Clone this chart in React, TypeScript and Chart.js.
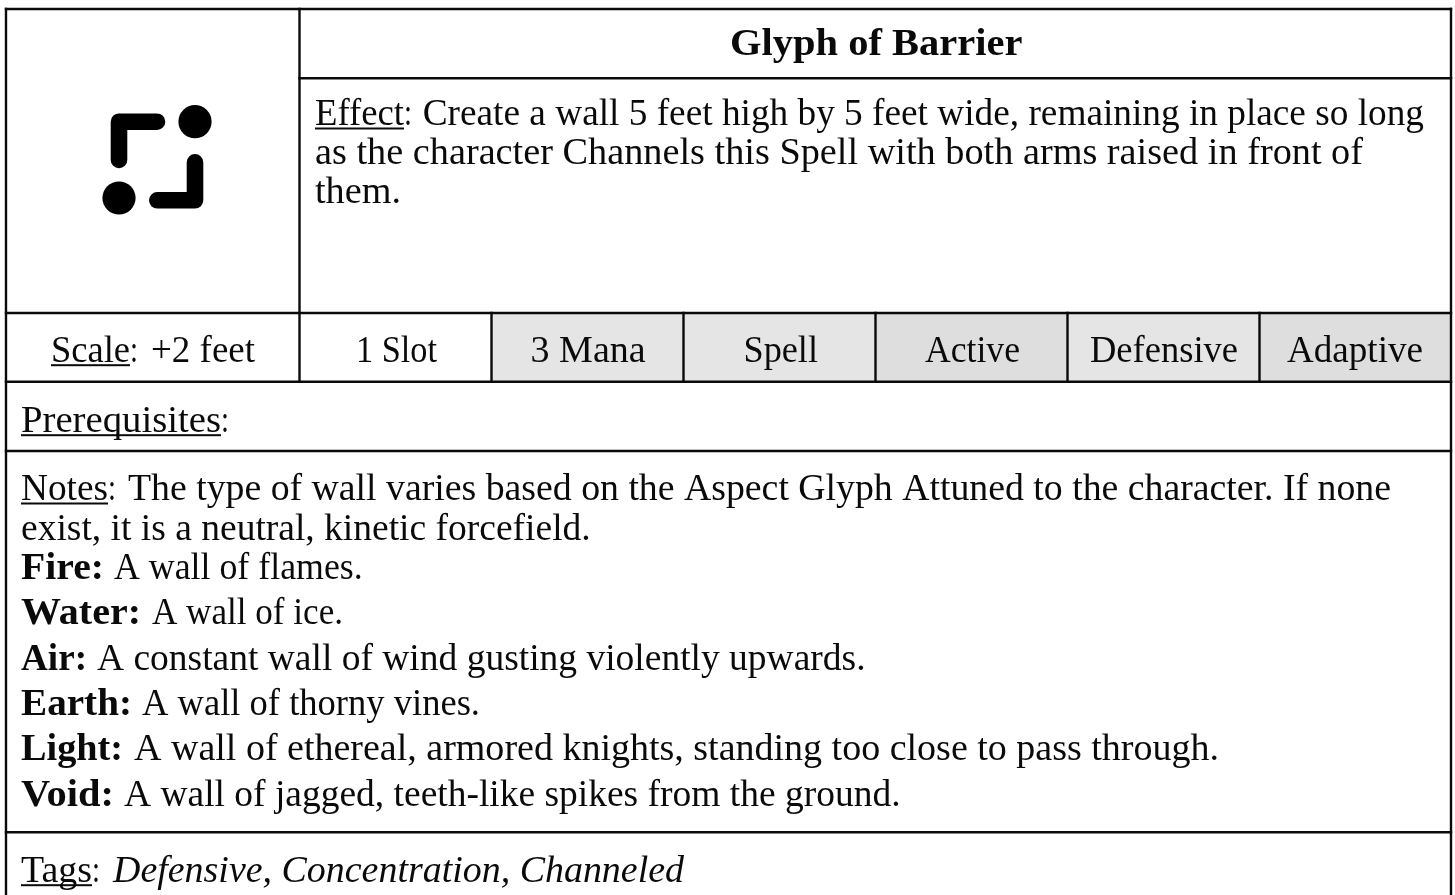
import React, { useEffect, useRef } from "react";
import { Chart, registerables } from "chart.js";

Chart.register(...registerables);

// ---- content ----
const titleText = "Glyph of Barrier";
const effectLines = [
  "Create a wall 5 feet high by 5 feet wide, remaining in place so long",
  "as the character Channels this Spell with both arms raised in front of",
  "them.",
];
const statLabels = ["1 Slot", "3 Mana", "Spell", "Active", "Defensive", "Adaptive"];
const noteLines = [
  "The type of wall varies based on the Aspect Glyph Attuned to the character. If none",
  "exist, it is a neutral, kinetic forcefield.",
];
const aspectNames = ["Fire:", "Water:", "Air:", "Earth:", "Light:", "Void:"];
const aspectTexts = [
  "A wall of flames.",
  "A wall of ice.",
  "A constant wall of wind gusting violently upwards.",
  "A wall of thorny vines.",
  "A wall of ethereal, armored knights, standing too close to pass through.",
  "A wall of jagged, teeth-like spikes from the ground.",
];
const tagsText = "Defensive, Concentration, Channeled";

// ---- layout ----
const W = 1455;
const H = 895;
const colLines = [491.5, 683.5, 875.5, 1067.5, 1259.5];
const cellEdges = [491.5, 683.5, 875.5, 1067.5, 1259.5, 1451];
const cellColors = ["#e5e5e5", "#e5e5e5", "#dedede", "#e5e5e5", "#dedede"];
type Seg = [number, number, number, number];
const rules: Seg[] = [
  [6, 9, 6, 895],
  [1451, 9, 1451, 895],
  [6, 9, 1451, 9],
  [299.5, 9, 299.5, 381.7],
  [299.5, 78.3, 1451, 78.3],
  [6, 313, 1451, 313],
  [6, 381.7, 1451, 381.7],
  [6, 451, 1451, 451],
  [6, 832.3, 1451, 832.3],
  ...colLines.map((x): Seg => [x, 313, x, 381.7]),
];
const glyphPaths = [
  [[119, 160], [119, 121.7], [157, 121.7]],
  [[195, 162.3], [195, 200.3], [157.3, 200.3]],
];
const glyphDots = [[195, 121.7], [119, 198]];

type Run = { t: string; s?: "b" | "i"; u?: boolean; x0: number; x1: number; y: number };
const statExtents = [
  [356, 437],
  [530.6, 645.7],
  [743.5, 818],
  [925, 1020],
  [1090, 1238],
  [1287, 1423],
];
const aspectBaselines = [579.3, 624, 670, 715, 760, 805.7];
const aspectLabelEnds = [104, 141, 87, 132, 123, 114];
const aspectTextExtents = [
  [114, 362.7],
  [152, 343],
  [97, 865.5],
  [142, 480],
  [134, 1219],
  [124, 900.5],
];

const runs: Run[] = [
  { t: titleText, s: "b", x0: 730, x1: 1022.5, y: 55 },
  { t: "Effect", u: true, x0: 315, x1: 404, y: 125 },
  { t: ":", x0: 404, x1: 412, y: 125 },
  { t: effectLines[0], x0: 422.7, x1: 1424, y: 125 },
  { t: effectLines[1], x0: 315, x1: 1363, y: 164 },
  { t: effectLines[2], x0: 315, x1: 401, y: 203 },
  { t: "Scale", u: true, x0: 51, x1: 130, y: 361.7 },
  { t: ":", x0: 130, x1: 138, y: 361.7 },
  { t: "+2 feet", x0: 151, x1: 255, y: 361.7 },
  ...statLabels.map((t, i): Run => ({ t, x0: statExtents[i][0], x1: statExtents[i][1], y: 361.7 })),
  { t: "Prerequisites", u: true, x0: 21, x1: 221, y: 431.7 },
  { t: ":", x0: 221, x1: 229, y: 431.7 },
  { t: "Notes", u: true, x0: 21, x1: 108, y: 500 },
  { t: ":", x0: 108, x1: 116, y: 500 },
  { t: noteLines[0], x0: 128, x1: 1391, y: 500 },
  { t: noteLines[1], x0: 21, x1: 590.7, y: 540 },
  ...aspectNames.map((t, i): Run => ({ t, s: "b", x0: 21, x1: aspectLabelEnds[i], y: aspectBaselines[i] })),
  ...aspectTexts.map((t, i): Run => ({ t, x0: aspectTextExtents[i][0], x1: aspectTextExtents[i][1], y: aspectBaselines[i] })),
  { t: "Tags", u: true, x0: 21, x1: 92, y: 881.7 },
  { t: ":", x0: 92, x1: 100, y: 881.7 },
  { t: tagsText, s: "i", x0: 113, x1: 684, y: 881.7 },
];

const FONT = '37px "Liberation Serif", serif';
const textPlugin = {
  id: "cardText",
  afterDatasetsDraw(chart: any) {
    const { ctx, scales } = chart;
    const px = (v: number) => scales.x.getPixelForValue(v);
    const py = (v: number) => scales.y.getPixelForValue(v);
    ctx.save();
    ctx.fillStyle = "#0a0a0a";
    ctx.textBaseline = "alphabetic";
    ctx.textAlign = "left";
    for (const r of runs) {
      ctx.font = (r.s === "b" ? "bold " : r.s === "i" ? "italic " : "") + FONT;
      const natural = ctx.measureText(r.t).width;
      const x0 = px(r.x0);
      const target = px(r.x1) - x0;
      ctx.save();
      ctx.translate(x0, py(r.y));
      ctx.scale(target / natural, 1);
      ctx.fillText(r.t, 0, 0);
      ctx.restore();
      if (r.u) ctx.fillRect(x0, py(r.y) + 2.5, target, 2);
    }
    ctx.restore();
  },
};

export default function App() {
  const ref = useRef<HTMLCanvasElement | null>(null);
  useEffect(() => {
    document.body.style.margin = "0";
    document.body.style.background = "#fff";
    const line = (pts: number[][], width: number, color: string, round = false) => ({
      type: "line" as const,
      data: pts.map(([x, y]) => ({ x, y })),
      borderColor: color,
      borderWidth: width,
      pointRadius: 0,
      fill: false,
      tension: 0,
      borderCapStyle: round ? "round" : "square",
      borderJoinStyle: round ? "round" : "miter",
      order: 1,
    });
    const chart = new Chart(ref.current as HTMLCanvasElement, {
      type: "scatter",
      data: {
        datasets: [
          ...cellColors.map((c, i) => ({
            type: "bar" as const,
            data: [{ x: (cellEdges[i] + cellEdges[i + 1]) / 2, y: [313, 381.7] }],
            backgroundColor: c,
            borderWidth: 0,
            barThickness: cellEdges[i + 1] - cellEdges[i],
            grouped: false,
            order: 3,
          })),
          ...rules.map((s) => line([[s[0], s[1]], [s[2], s[3]]], 2.4, "#0a0a0a")),
          ...glyphPaths.map((p) => line(p, 16.6, "#000000", true)),
          {
            type: "scatter" as const,
            data: glyphDots.map(([x, y]) => ({ x, y })),
            pointRadius: 16.6,
            pointBackgroundColor: "#000000",
            pointBorderWidth: 0,
            showLine: false,
            order: 1,
          },
        ] as any,
      },
      options: {
        animation: false,
        responsive: false,
        maintainAspectRatio: false,
        layout: { padding: 0, autoPadding: false },
        events: [],
        plugins: { legend: { display: false }, tooltip: { enabled: false }, title: { display: false } },
        scales: {
          x: { type: "linear", min: 0, max: W, display: false, offset: false },
          y: { type: "linear", min: 0, max: H, reverse: true, display: false },
        },
      },
      plugins: [textPlugin],
    } as any);
    return () => chart.destroy();
  }, []);
  return <canvas ref={ref} width={W} height={H} style={{ display: "block" }} />;
}
